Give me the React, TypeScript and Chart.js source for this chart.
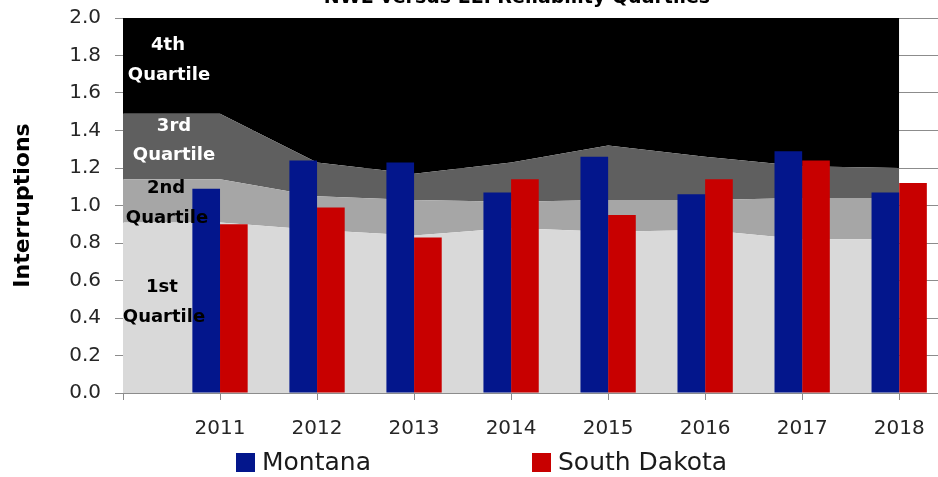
import React, { useEffect, useRef } from "react";
import { Chart, registerables } from "chart.js";

Chart.register(...registerables);

// ---- data ----
const years = [2011, 2012, 2013, 2014, 2015, 2016, 2017, 2018];
const montana = [1.09, 1.24, 1.23, 1.07, 1.26, 1.06, 1.29, 1.07];
const southDakota = [0.9, 0.99, 0.83, 1.14, 0.95, 1.14, 1.24, 1.12];

const quartileYears = [2010, 2011, 2012, 2013, 2014, 2015, 2016, 2017, 2018];
const q1Top = [0.91, 0.91, 0.87, 0.84, 0.88, 0.86, 0.87, 0.82, 0.82];
const q2Top = [1.14, 1.14, 1.05, 1.03, 1.02, 1.03, 1.03, 1.04, 1.04];
const q3Top = [1.49, 1.49, 1.23, 1.17, 1.23, 1.32, 1.26, 1.21, 1.2];

const yMin = 0;
const yMax = 2;
const yStep = 0.2;
const xMin = 2010;
const xMax = 2018.4;

const seriesNames = ["Montana", "South Dakota"];
const titleText = "NWE versus EEI Reliability Quartiles";
const yTitle = "Interruptions";

// ---- styles / layout (not data) ----
const FONT = '"DejaVu Sans", sans-serif';
const BLUE = "#03168c";
const RED = "#c80000";
const GRID = "#8c8c8c";

const quartileLabels = [
  { text: "4th", color: "#ffffff", dx: 45, dy: 27 },
  { text: "Quartile", color: "#ffffff", dx: 46, dy: 57 },
  { text: "3rd", color: "#ffffff", dx: 51, dy: 108 },
  { text: "Quartile", color: "#ffffff", dx: 51, dy: 137 },
  { text: "2nd", color: "#000000", dx: 43, dy: 170 },
  { text: "Quartile", color: "#000000", dx: 44, dy: 200 },
  { text: "1st", color: "#000000", dx: 39, dy: 269 },
  { text: "Quartile", color: "#000000", dx: 41, dy: 299 },
];

const overlayPlugin = {
  id: "overlay",
  afterDatasetsDraw(chart: any) {
    const ctx = chart.ctx;
    const area = chart.chartArea;
    ctx.save();
    ctx.font = `bold 18px ${FONT}`;
    ctx.textAlign = "center";
    ctx.textBaseline = "middle";
    quartileLabels.forEach((l) => {
      ctx.fillStyle = l.color;
      ctx.fillText(l.text, area.left + l.dx, area.top + l.dy);
    });
    ctx.restore();
  },
  afterDraw(chart: any) {
    const ctx = chart.ctx;
    ctx.save();
    // title (partly cut off at the top)
    ctx.font = `bold 19px ${FONT}`;
    ctx.fillStyle = "#000";
    ctx.textAlign = "center";
    ctx.textBaseline = "alphabetic";
    ctx.fillText(titleText, 517, 3);
    // legend
    const boxX = [236, 532];
    const barSets = chart.data.datasets.filter((d: any) => d.type === "bar");
    ctx.font = `25px ${FONT}`;
    ctx.textAlign = "left";
    ctx.textBaseline = "middle";
    barSets.forEach((d: any, i: number) => {
      ctx.fillStyle = d.backgroundColor;
      ctx.fillRect(boxX[i], 453, 19, 19);
      ctx.fillStyle = "#1a1a1a";
      ctx.fillText(d.label, boxX[i] + 26, 463);
    });
    ctx.restore();
  },
};

export default function App() {
  const ref = useRef<HTMLCanvasElement>(null);

  useEffect(() => {
    if (!ref.current) return;
    const pts = (xs: number[], ys: number[]) => xs.map((x, i) => ({ x, y: ys[i] }));
    const area = (label: string, ys: number[], fill: any, color: string) => ({
      type: "line",
      label,
      data: pts(quartileYears, ys),
      fill,
      backgroundColor: color,
      borderWidth: 0,
      pointRadius: 0,
      tension: 0,
      order: 1,
    });
    const bar = (label: string, ys: number[], color: string) => ({
      type: "bar",
      label,
      data: pts(years, ys),
      backgroundColor: color,
      borderWidth: 0,
      order: 0,
      categoryPercentage: 0.57,
      barPercentage: 1.0,
    });
    const chart = new Chart(ref.current, {
      type: "bar",
      data: {
        datasets: [
          area("1st Quartile", q1Top, "origin", "#d9d9d9"),
          area("2nd Quartile", q2Top, "-1", "#a6a6a6"),
          area("3rd Quartile", q3Top, "-1", "#5f5f5f"),
          area("4th Quartile", q3Top, "end", "#000000"),
          bar(seriesNames[0], montana, BLUE),
          bar(seriesNames[1], southDakota, RED),
        ] as any,
      },
      options: {
        responsive: false,
        animation: false,
        events: [],
        layout: { padding: { top: 18, left: 0, right: 0, bottom: 0 } },
        plugins: {
          legend: { display: false },
          tooltip: { enabled: false },
          title: { display: false },
        },
        scales: {
          x: {
            type: "linear",
            min: xMin,
            max: xMax,
            offset: false,
            grid: {
              offset: false,
              drawOnChartArea: false,
              drawTicks: true,
              tickLength: 7,
              color: GRID,
            },
            border: { display: true, color: GRID },
            ticks: {
              stepSize: 1,
              includeBounds: false,
              autoSkip: false,
              maxRotation: 0,
              padding: 17,
              color: "#262626",
              font: { family: FONT, size: 20 },
              callback: (v: any) => (Number(v) === xMin ? "" : String(v)),
            },
            afterFit: (s: any) => {
              s.height = 84;
              s.paddingLeft = 0;
              s.paddingRight = 0;
            },
          },
          y: {
            type: "linear",
            min: yMin,
            max: yMax,
            grid: {
              color: GRID,
              drawTicks: true,
              tickLength: 8,
            },
            border: { display: true, color: GRID },
            ticks: {
              stepSize: yStep,
              padding: 14,
              color: "#262626",
              font: { family: FONT, size: 20 },
              callback: (v: any) => Number(v).toFixed(1),
            },
            title: {
              display: true,
              text: yTitle,
              color: "#000",
              font: { family: FONT, size: 22, weight: "bold" },
              padding: { top: 10, bottom: 0 },
            },
            afterFit: (s: any) => {
              s.width = 123;
              s.paddingTop = 0;
              s.paddingBottom = 0;
            },
          },
        },
      } as any,
      plugins: [overlayPlugin],
    });
    return () => chart.destroy();
  }, []);

  return (
    <div style={{ position: "absolute", left: 0, top: 0, width: 938, height: 477, background: "#fff" }}>
      <canvas ref={ref} width={938} height={477} />
    </div>
  );
}
